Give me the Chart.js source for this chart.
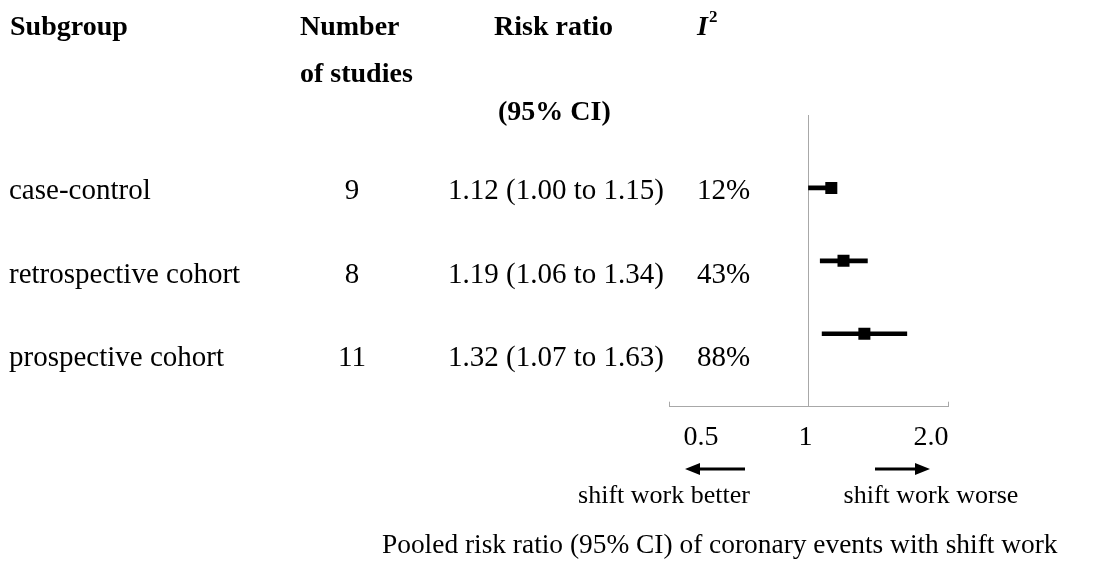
<!DOCTYPE html>
<html>
<head>
<meta charset="utf-8">
<script src="https://cdn.jsdelivr.net/npm/chart.js@4.4.1/dist/chart.umd.min.js"></script>
<style>
  html, body { margin: 0; padding: 0; background: #ffffff; }
  #wrap { width: 1114px; height: 564px; position: relative; }
</style>
</head>
<body>
<div id="wrap"><canvas id="forest" width="1114" height="564"></canvas></div>
<script>
// Subgroup meta-analysis: pooled risk ratios of coronary events with shift work
const subgroups = ['case-control', 'retrospective cohort', 'prospective cohort'];
const studyCounts = [9, 8, 11];
const riskRatios = [1.12, 1.19, 1.32];
const ciLower = [1.00, 1.06, 1.07];
const ciUpper = [1.15, 1.34, 1.63];
const i2Values = [12, 43, 88];
const tickValues = [0.5, 1, 2];
const tickLabels = ['0.5', '1', '2.0'];

const SERIF = '"Liberation Serif", "Times New Roman", Times, serif';
const GREY = '#a8a8a8';
const rowIndex = subgroups.map((_, i) => i + 1);

// table text layout (pixel positions of the left-hand columns)
const tableLayout = {
  labelX: 9,
  countX: 352,
  ratioX: 448,
  i2X: 697,
  baselines: [199, 282.5, 365.5]
};
// tick labels sit slightly inside the axis ends
const tickLabelNudge = [32, -3, -17];

const ciData = rowIndex.map((r, i) => ({ x: [ciLower[i], ciUpper[i]], y: r }));
const pointData = rowIndex.map((r, i) => ({ x: riskRatios[i], y: r }));

const tablePlugin = {
  id: 'forestTable',
  afterDraw(chart) {
    const ctx = chart.ctx;
    const xs = chart.scales.x;
    const area = chart.chartArea;
    ctx.save();
    ctx.fillStyle = '#000';
    ctx.textBaseline = 'alphabetic';

    // column headers
    ctx.font = 'bold 28px ' + SERIF;
    ctx.textAlign = 'left';
    ctx.fillText('Subgroup', 10, 35);
    ctx.fillText('Number', 300, 35);
    ctx.fillText('of studies', 300, 82);
    ctx.fillText('Risk ratio', 494, 35);
    ctx.fillText('(95% CI)', 498, 120);
    ctx.font = 'italic bold 28px ' + SERIF;
    ctx.fillText('I', 697, 35);
    const iw = ctx.measureText('I').width;
    ctx.font = 'bold 17px ' + SERIF;
    ctx.fillText('2', 697 + iw + 1, 22);

    // table rows
    ctx.font = '29px ' + SERIF;
    subgroups.forEach((name, i) => {
      const yb = tableLayout.baselines[i];
      ctx.textAlign = 'left';
      ctx.fillText(name, tableLayout.labelX, yb);
      ctx.textAlign = 'center';
      ctx.fillText(String(studyCounts[i]), tableLayout.countX, yb);
      ctx.textAlign = 'left';
      const txt = riskRatios[i].toFixed(2) + ' (' + ciLower[i].toFixed(2) + ' to ' + ciUpper[i].toFixed(2) + ')';
      ctx.fillText(txt, tableLayout.ratioX, yb);
      ctx.fillText(i2Values[i] + '%', tableLayout.i2X, yb);
    });

    // inward tick marks at the ends of the axis
    ctx.strokeStyle = GREY;
    ctx.lineWidth = 1;
    [tickValues[0], tickValues[tickValues.length - 1]].forEach(v => {
      const px = Math.round(xs.getPixelForValue(v)) + 0.5;
      ctx.beginPath();
      ctx.moveTo(px, area.bottom);
      ctx.lineTo(px, area.bottom - 5);
      ctx.stroke();
    });

    // tick labels of the risk-ratio axis
    ctx.font = '28px ' + SERIF;
    ctx.textAlign = 'center';
    tickValues.forEach((v, i) => {
      ctx.fillText(tickLabels[i], xs.getPixelForValue(v) + tickLabelNudge[i], 445);
    });

    // direction arrows
    const arrowY = 469;
    const drawArrow = (x0, x1) => {
      const dir = Math.sign(x1 - x0);
      ctx.strokeStyle = '#000';
      ctx.lineWidth = 3;
      ctx.beginPath();
      ctx.moveTo(x0, arrowY);
      ctx.lineTo(x1 - dir * 12, arrowY);
      ctx.stroke();
      ctx.beginPath();
      ctx.moveTo(x1, arrowY);
      ctx.lineTo(x1 - dir * 15, arrowY - 6);
      ctx.lineTo(x1 - dir * 15, arrowY + 6);
      ctx.closePath();
      ctx.fill();
    };
    drawArrow(745, 685);
    drawArrow(875, 930);

    ctx.font = '26px ' + SERIF;
    ctx.textAlign = 'center';
    ctx.fillText('shift work better', 664, 503);
    ctx.fillText('shift work worse', 931, 503);

    ctx.font = '27.4px ' + SERIF;
    ctx.textAlign = 'left';
    ctx.fillText('Pooled risk ratio (95% CI) of coronary events with shift work', 382, 553);
    ctx.restore();
  }
};

new Chart(document.getElementById('forest'), {
  type: 'bar',
  data: {
    datasets: [
      {
        type: 'bar',
        indexAxis: 'y',
        data: ciData,
        backgroundColor: '#000',
        borderWidth: 0,
        barThickness: 4,
        borderSkipped: false
      },
      {
        type: 'scatter',
        data: pointData,
        pointStyle: 'rect',
        pointRadius: 8.5,
        pointHoverRadius: 8.5,
        backgroundColor: '#000',
        borderWidth: 0
      }
    ]
  },
  options: {
    responsive: false,
    animation: false,
    events: [],
    layout: { padding: { left: 669, right: 166, top: 115, bottom: 0 } },
    plugins: { legend: { display: false }, tooltip: { enabled: false } },
    scales: {
      x: {
        type: 'logarithmic',
        position: 'bottom',
        offset: false,
        min: tickValues[0],
        max: tickValues[tickValues.length - 1],
        afterBuildTicks(scale) {
          scale.ticks = tickValues.map(v => ({ value: v }));
        },
        afterFit(scale) { scale.height = 157.3; },
        grid: {
          offset: false,
          drawOnChartArea: true,
          drawTicks: false,
          color: c => (c.tick && c.tick.value === 1 ? GREY : 'rgba(0,0,0,0)'),
          lineWidth: 1
        },
        border: { display: true, color: GREY, width: 1 },
        ticks: { display: false }
      },
      y: {
        type: 'linear',
        display: false,
        offset: false,
        grid: { offset: false },
        min: 0,
        max: 4,
        reverse: true
      }
    }
  },
  plugins: [tablePlugin]
});
</script>
</body>
</html>
